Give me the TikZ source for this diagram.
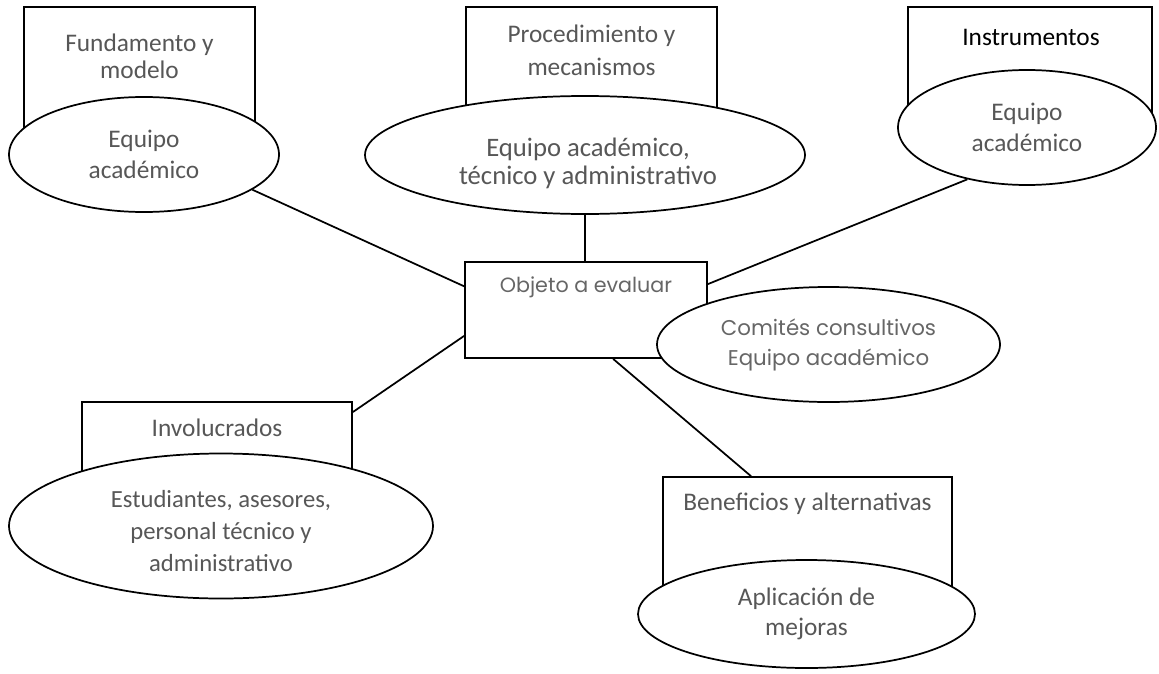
\documentclass[tikz,border=0pt]{standalone}
\usepackage{fontspec}
\setmainfont{Carlito}
\newfontfamily\gothic{Poppins}
\usetikzlibrary{shapes.geometric}
\definecolor{txt}{HTML}{575757}
\definecolor{gtxt}{HTML}{666666}
\begin{document}
\begin{tikzpicture}[x=0.75pt,y=-0.75pt,
  wh/.style 2 args={minimum width=#1*0.75pt, minimum height=#2*0.75pt},
  conn/.style={line width=1.3pt},
  boxshape/.style={draw, line width=1.3pt, fill=white, rectangle, inner sep=0pt},
  ell/.style={draw, line width=1.3pt, fill=white, ellipse, inner sep=0pt, align=center, text=txt, font=\fontsize{19}{23}\selectfont},
  lbl/.style={align=center, text=txt, font=\fontsize{19}{23}\selectfont, inner sep=0pt},
  glbl/.style={align=center, text=gtxt, inner sep=0pt}]
\useasboundingbox[fill=white] (0,0) rectangle (1159,674);
% top left
\node[boxshape, wh={231}{138}] (b1) at (139.5,76) {};
\node[lbl, font=\fontsize{19}{20}\selectfont] (t1) at (139.5,56) {Fundamento y\\modelo};
\node[ell, wh={270}{115}] (e1) at (144,154.5) {Equipo\\académico};
% top middle
\node[boxshape, wh={251}{133}] (b2) at (591.5,73.5) {};
\node[lbl, font=\fontsize{19}{25}\selectfont] (t2) at (591.5,50) {Procedimiento y\\mecanismos};
\node[ell, wh={440}{118}] (e2) at (585,155) {};
\node[lbl, font=\fontsize{20}{21}\selectfont] (te2) at (588,163) {Equipo académico,\\técnico y administrativo};
% top right
\node[boxshape, wh={244}{118}] (b3) at (1030,66) {};
\node[lbl, text=black] (t3) at (1031,37) {Instrumentos};
\node[ell, wh={258}{115}] (e3) at (1027,127.5) {Equipo\\académico};
% centre
\node[boxshape, wh={242}{96}] (obj) at (586,310) {};
\node[glbl, font=\gothic\fontsize{15.5}{18}\selectfont] (tobj) at (586,287) {Objeto a evaluar};
\node[ell, wh={343}{115}, text=gtxt, font=\gothic\fontsize{16}{22.5}\selectfont] (e4) at (828.5,344.5) {Comités consultivos\\Equipo académico};
% bottom right
\node[boxshape, wh={289}{133}] (ben) at (807.5,543.5) {};
\node[lbl] (tben) at (807.5,504) {Beneficios y alternativas};
\node[ell, wh={337}{108}] (e5) at (806.5,614) {Aplicación de\\mejoras};
% bottom left
\node[boxshape, wh={270}{98}] (inv) at (217,451) {};
\node[lbl] (tinv) at (217,428) {Involucrados};
\node[ell, wh={424}{145}] (e6) at (221,526) {};
\node[lbl, font=\fontsize{18.5}{24}\selectfont] (te6) at (221,531) {Estudiantes, asesores,\\personal técnico y\\administrativo};
% connectors
\draw[conn] (e1.-18) -- (obj.169);
\draw[conn] (e2.south) -- (e2.south |- obj.north);
\draw[conn] (obj.12) -- (e3.221);
\draw[conn] (obj.192) -- (inv.16);
\draw[conn] (obj.-61) -- (ben.130);
\end{tikzpicture}
\end{document}
